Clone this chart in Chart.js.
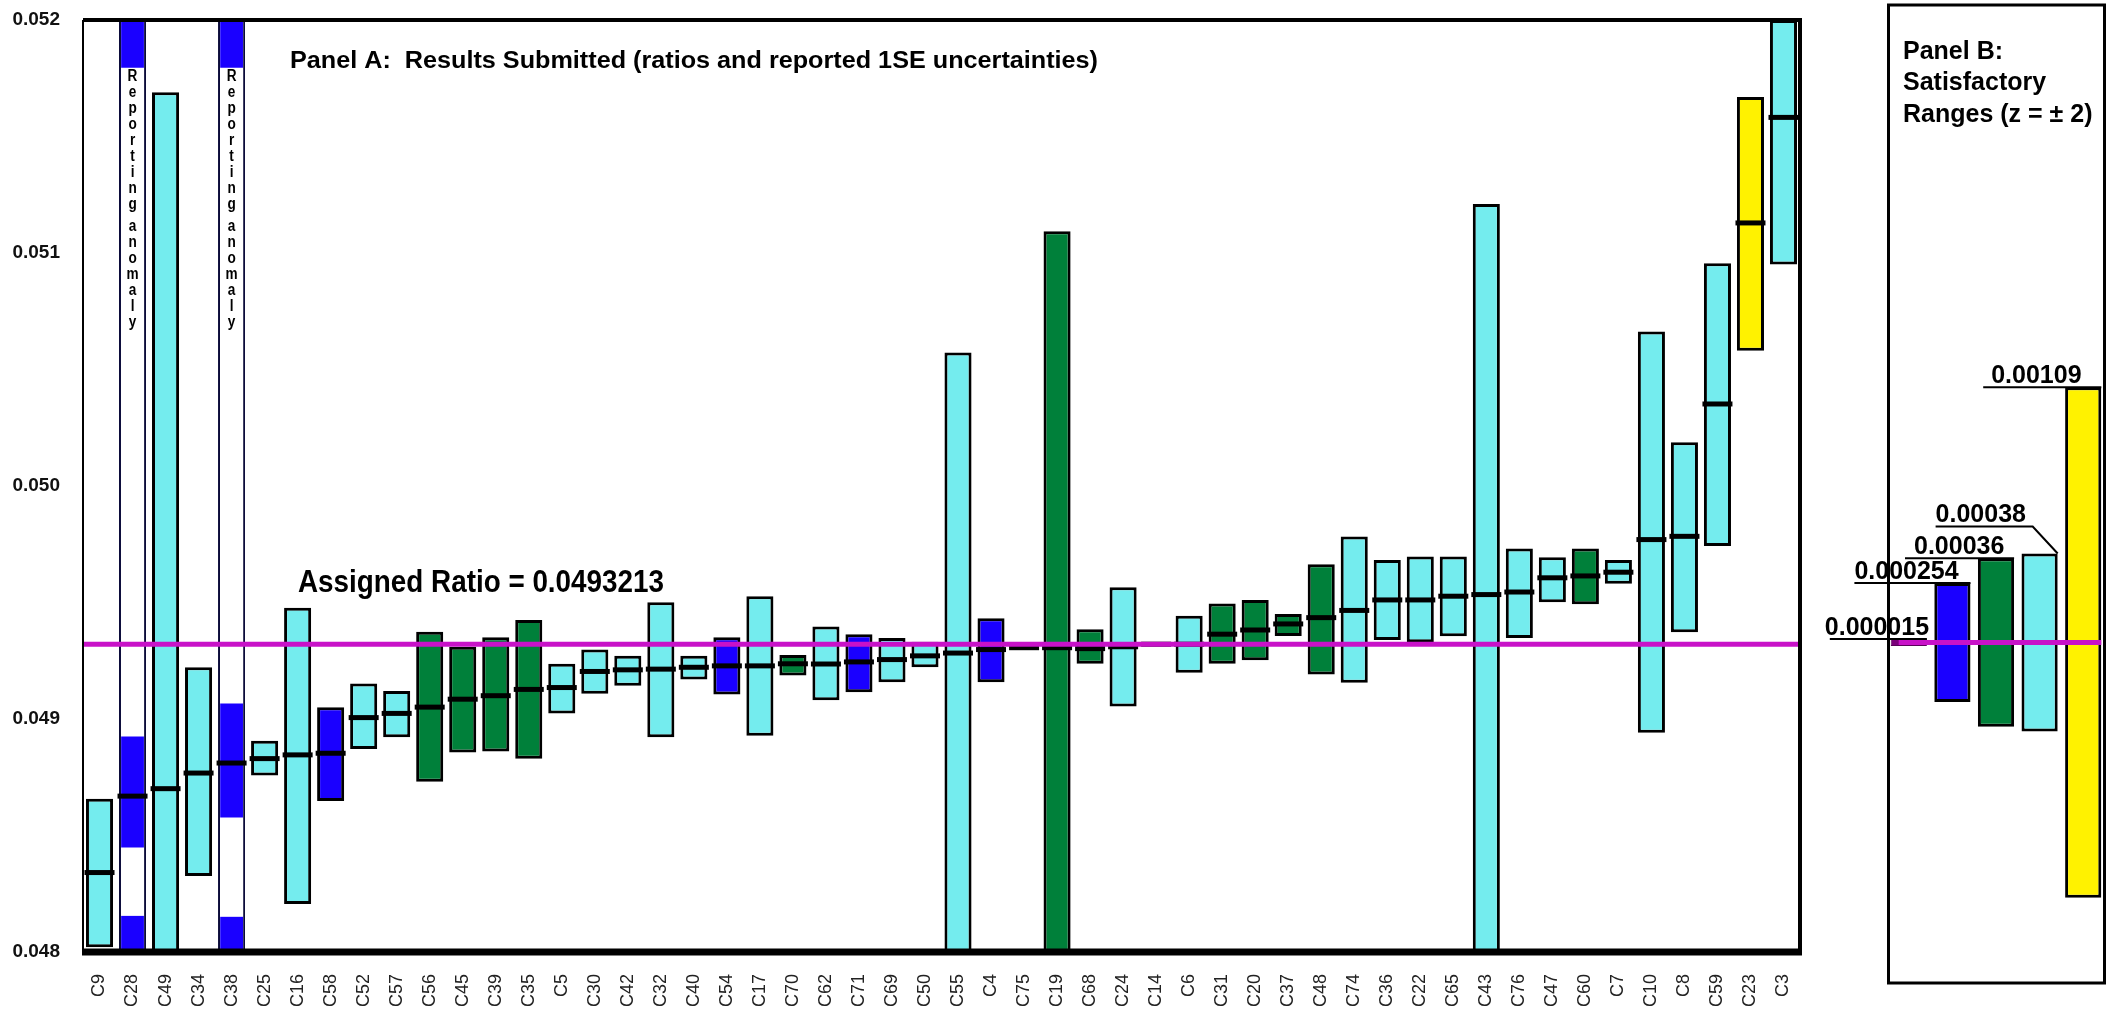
<!DOCTYPE html>
<html lang="en">
<head>
<meta charset="UTF-8">
<title>Results Submitted and Satisfactory Ranges</title>
<script src="https://cdn.jsdelivr.net/npm/chart.js"></script>
<style>
  html, body { margin: 0; padding: 0; background: #fff; }
  #wrap { position: relative; width: 2110px; height: 1009px; }
  #panelA { position: absolute; left: 0; top: 0; }
  #panelB { position: absolute; left: 1820px; top: 0; }
</style>
</head>
<body>
<div id="wrap">
  <canvas id="panelA" width="1820" height="1009"></canvas>
  <canvas id="panelB" width="290" height="1009"></canvas>
</div>
<script>
// lab codes, in the order they are plotted
const labs = ['C9','C28','C49','C34','C38','C25','C16','C58','C52','C57','C56','C45','C39','C35','C5','C30','C42','C32','C40','C54',
  'C17','C70','C62','C71','C69','C50','C55','C4','C75','C19','C68','C24','C14','C6','C31','C20','C37','C48','C74','C36',
  'C22','C65','C43','C76','C47','C60','C7','C10','C8','C59','C23','C3'];
// reported ratio (black bar)
const ratio = [0.048341,0.048669,0.048701,0.048768,0.048811,0.04883,0.048846,0.048853,0.049006,0.049024,0.049051,0.049085,0.0491,0.049127,0.049135,0.049204,0.049211,0.049214,0.049222,0.049228,
  0.049228,0.049237,0.049236,0.049245,0.049255,0.049271,0.049283,0.049298,0.049306,0.049306,0.049302,0.04931,0.049321,0.049321,0.049364,0.049382,0.049408,0.049435,0.049466,0.049511,
  0.049511,0.049527,0.049534,0.049545,0.049606,0.049614,0.04963,0.04977,0.049784,0.050352,0.051129,0.051582];
// ratio -/+ reported 1SE (box ends)
const lower = [0.04802,0.048,0.048,0.048326,0.048,0.048757,0.048206,0.048648,0.048871,0.048922,0.048731,0.048856,0.048861,0.048829,0.049024,0.049108,0.049143,0.048922,0.049169,0.049105,
  0.048928,0.049187,0.04908,0.049115,0.049158,0.049222,0.048,0.049158,0.049302,0.048,0.049237,0.049054,0.049318,0.049199,0.049237,0.049252,0.049356,0.049191,0.049156,0.049339,
  0.049329,0.049355,0.048,0.049348,0.049501,0.049492,0.04958,0.048941,0.049372,0.049743,0.05058,0.050951];
const upper = [0.048658,0.052,0.05169,0.049222,0.052,0.048907,0.049478,0.04905,0.049152,0.04912,0.049374,0.04931,0.049351,0.049425,0.049237,0.049298,0.049271,0.049501,0.049271,0.049351,
  0.049527,0.049275,0.049397,0.049364,0.049348,0.049332,0.050573,0.049432,0.04931,0.051093,0.049385,0.049565,0.049324,0.049443,0.049496,0.049511,0.049451,0.049664,0.049783,0.049682,
  0.049697,0.049697,0.05121,0.049732,0.049694,0.049732,0.049682,0.050663,0.050188,0.050956,0.05167,0.052];
// method group: 0 anomaly, 1 blue, 2 green, 3 cyan, 4 yellow
const group = [3,0,3,3,0,3,3,1,3,3,2,2,2,2,3,3,3,3,3,1,
  3,2,3,1,3,3,3,1,3,2,2,3,3,3,2,2,2,2,3,3,
  3,3,3,3,3,2,3,3,3,3,4,3];

// reporting anomalies: blue pieces inside the white columns
const anomalyLabs = ['C28', 'C38'];
const anomalyHigh = [[0.051795, 0.052], [0.051795, 0.052]];
const anomalyMid = [[0.048448, 0.048925], [0.048577, 0.049067]];
const anomalyLow = [[0.048, 0.048155], [0.048, 0.048151]];

const assigned = 0.0493213;
const yTicks = [0.048, 0.049, 0.050, 0.051, 0.052];

// panel B: satisfactory half ranges (z = +/- 2)
const satLabels = ['0.000015', '0.000254', '0.00036', '0.00038', '0.00109'];
const satRanges = [0.000015, 0.000254, 0.00036, 0.00038, 0.00109];

const colorOf = {0: '#ffffff', 1: '#1a00ff', 2: '#00803a', 3: '#74ecee', 4: '#fff200'};
const FONT = "'Liberation Sans', Arial, sans-serif";

function line(ctx, x1, y1, x2, y2) {
  ctx.beginPath(); ctx.moveTo(x1, y1); ctx.lineTo(x2, y2); ctx.stroke();
}
function fitText(ctx, txt, x, y, font, w) {
  ctx.font = font;
  const m = ctx.measureText(txt).width;
  ctx.save(); ctx.translate(x, y); ctx.scale(w / m, 1);
  ctx.fillText(txt, 0, 0); ctx.restore();
}
function segData(segs) {
  return labs.map(l => { const k = anomalyLabs.indexOf(l); return k < 0 ? null : segs[k]; });
}
// keep label overflow from pushing the plot area around
function noPad(s) { s.paddingTop = 0; s.paddingBottom = 0; s.paddingLeft = 0; s.paddingRight = 0; }

const panelADecor = {
  id: 'panelADecor',
  afterDatasetsDraw(chart) {
    const {ctx, chartArea: a, scales: {x, y}} = chart;
    const ya = y.getPixelForValue(assigned);
    ctx.save();
    ctx.strokeStyle = '#c812c8'; ctx.lineWidth = 5;
    line(ctx, a.left, ya, a.right, ya);

    // frame
    ctx.strokeStyle = '#000';
    ctx.lineWidth = 2; line(ctx, a.left, a.top, a.left, a.bottom);
    ctx.lineWidth = 4; line(ctx, a.left, a.top, a.right + 2, a.top);
    line(ctx, a.right, a.top, a.right, a.bottom);
    ctx.lineWidth = 7; line(ctx, a.left - 1, a.bottom, a.right + 2, a.bottom);

    // stacked "Reporting anomaly" text
    ctx.fillStyle = '#000';
    ctx.font = 'bold 16px ' + FONT;
    ctx.textAlign = 'center'; ctx.textBaseline = 'middle';
    anomalyLabs.forEach(l => {
      const cx = x.getPixelForValue(labs.indexOf(l));
      let ty = a.top + 57;
      for (const ch of 'Reporting anomaly') {
        if (ch === ' ') { ty += 6; continue; }
        ctx.save(); ctx.translate(cx, ty); ctx.scale(0.85, 1);
        ctx.fillText(ch, 0, 0); ctx.restore();
        ty += 16;
      }
    });

    ctx.textAlign = 'left'; ctx.textBaseline = 'alphabetic';
    fitText(ctx, 'Panel A:  Results Submitted (ratios and reported 1SE uncertainties)',
      a.left + 207, a.top + 48, 'bold 23px ' + FONT, 808);
    fitText(ctx, 'Assigned Ratio = ' + assigned, a.left + 215, ya - 52, 'bold 32px ' + FONT, 366);
    ctx.restore();
  }
};

const barCommon = {grouped: false, categoryPercentage: 1, borderSkipped: false};

new Chart(document.getElementById('panelA'), {
  type: 'bar',
  data: {
    labels: labs,
    datasets: [
      {type: 'line', data: ratio, showLine: false, pointStyle: 'line', pointRadius: 15, pointHoverRadius: 15,
       pointBorderWidth: 5, pointHoverBorderWidth: 5, pointBorderColor: '#000', pointBackgroundColor: '#000', order: 0},
      {...barCommon, data: segData(anomalyHigh), backgroundColor: colorOf[1], borderWidth: 0, barPercentage: 0.69, order: 1},
      {...barCommon, data: segData(anomalyMid), backgroundColor: colorOf[1], borderWidth: 0, barPercentage: 0.69, order: 1},
      {...barCommon, data: segData(anomalyLow), backgroundColor: colorOf[1], borderWidth: 0, barPercentage: 0.69, order: 1},
      {...barCommon, data: labs.map((_, i) => [lower[i], upper[i]]), barPercentage: 0.82, order: 2,
       backgroundColor: group.map(g => colorOf[g]),
       borderColor: group.map(g => g === 0 ? '#0b0b3a' : '#000'),
       borderWidth: group.map(g => g === 0 ? 2 : 3)}
    ]
  },
  options: {
    responsive: false,
    animation: false,
    events: [],
    layout: {padding: {top: 15, right: 7, left: 0, bottom: 0}},
    plugins: {legend: {display: false}, tooltip: {enabled: false}},
    scales: {
      x: {
        grid: {display: false, drawTicks: false}, border: {display: false},
        ticks: {autoSkip: false, minRotation: 90, maxRotation: 90, padding: 22, color: '#222',
                font: {family: FONT, size: 18}},
        afterFit: s => { s.height = 57; noPad(s); }
      },
      y: {
        min: 0.048, max: 0.052,
        grid: {display: false, drawTicks: false}, border: {display: false},
        afterBuildTicks: s => { s.ticks = yTicks.map(v => ({value: v})); },
        ticks: {padding: 23, color: '#111', font: {family: FONT, size: 19, weight: 'bold'},
                callback: v => v.toFixed(3)},
        afterFit: s => { s.width = 83; noPad(s); }
      }
    }
  },
  plugins: [panelADecor]
});

const panelBDecor = {
  id: 'panelBDecor',
  afterDatasetsDraw(chart) {
    const {ctx, chartArea: a, scales: {y}} = chart;
    const bars = chart.getDatasetMeta(0).data;
    const ya = y.getPixelForValue(assigned);
    ctx.save();
    ctx.strokeStyle = '#000'; ctx.lineWidth = 3;
    ctx.strokeRect(a.left + 1.5, a.top - 10, a.right - a.left - 2, a.bottom - a.top + 41);

    const first = bars[0], last = bars[bars.length - 1];
    ctx.strokeStyle = '#c812c8'; ctx.lineWidth = 5;
    line(ctx, first.x - first.width / 2 + 8, ya, last.x + last.width / 2, ya);

    ctx.fillStyle = '#000';
    ctx.textAlign = 'left'; ctx.textBaseline = 'alphabetic';
    ctx.font = 'bold 25px ' + FONT;
    ctx.fillText('Panel B:', a.left + 16, a.top + 44);
    ctx.fillText('Satisfactory', a.left + 16, a.top + 75);
    ctx.fillText('Ranges (z = \u00b1 2)', a.left + 16, a.top + 107);

    const startOff = [-79, -98, -91, -104, -100];
    const textOff = [-5, 0, 9, 0, 8];
    const raise = [0, 0, 0, 27, 0];
    ctx.strokeStyle = '#000'; ctx.lineWidth = 2;
    bars.forEach((el, i) => {
      const top = Math.min(el.y, el.base);
      const right = el.x + el.width / 2;
      const x0 = el.x + startOff[i];
      const ly = top - raise[i];
      if (raise[i]) {
        ctx.beginPath(); ctx.moveTo(x0, ly); ctx.lineTo(right - 25, ly); ctx.lineTo(right, top); ctx.stroke();
      } else {
        line(ctx, x0, ly, right, ly);
      }
      ctx.font = 'bold 25px ' + FONT;
      ctx.fillText(satLabels[i], x0 + textOff[i], ly - 4);
    });
    ctx.restore();
  }
};

new Chart(document.getElementById('panelB'), {
  type: 'bar',
  data: {
    labels: satLabels,
    datasets: [{
      ...barCommon,
      data: satRanges.map(r => [assigned - r, assigned + r]),
      backgroundColor: ['#7a007a', colorOf[1], colorOf[2], colorOf[3], colorOf[4]],
      borderColor: ['#5a005a', '#000', '#000', '#000', '#000'],
      borderWidth: [1, 3, 3, 3, 3], barPercentage: 0.83
    }]
  },
  options: {
    responsive: false,
    animation: false,
    events: [],
    layout: {padding: {left: 67, right: 5, top: 15, bottom: 57}},
    plugins: {legend: {display: false}, tooltip: {enabled: false}},
    scales: {
      x: {display: false},
      y: {display: false, min: 0.048, max: 0.052}
    }
  },
  plugins: [panelBDecor]
});
</script>
</body>
</html>
